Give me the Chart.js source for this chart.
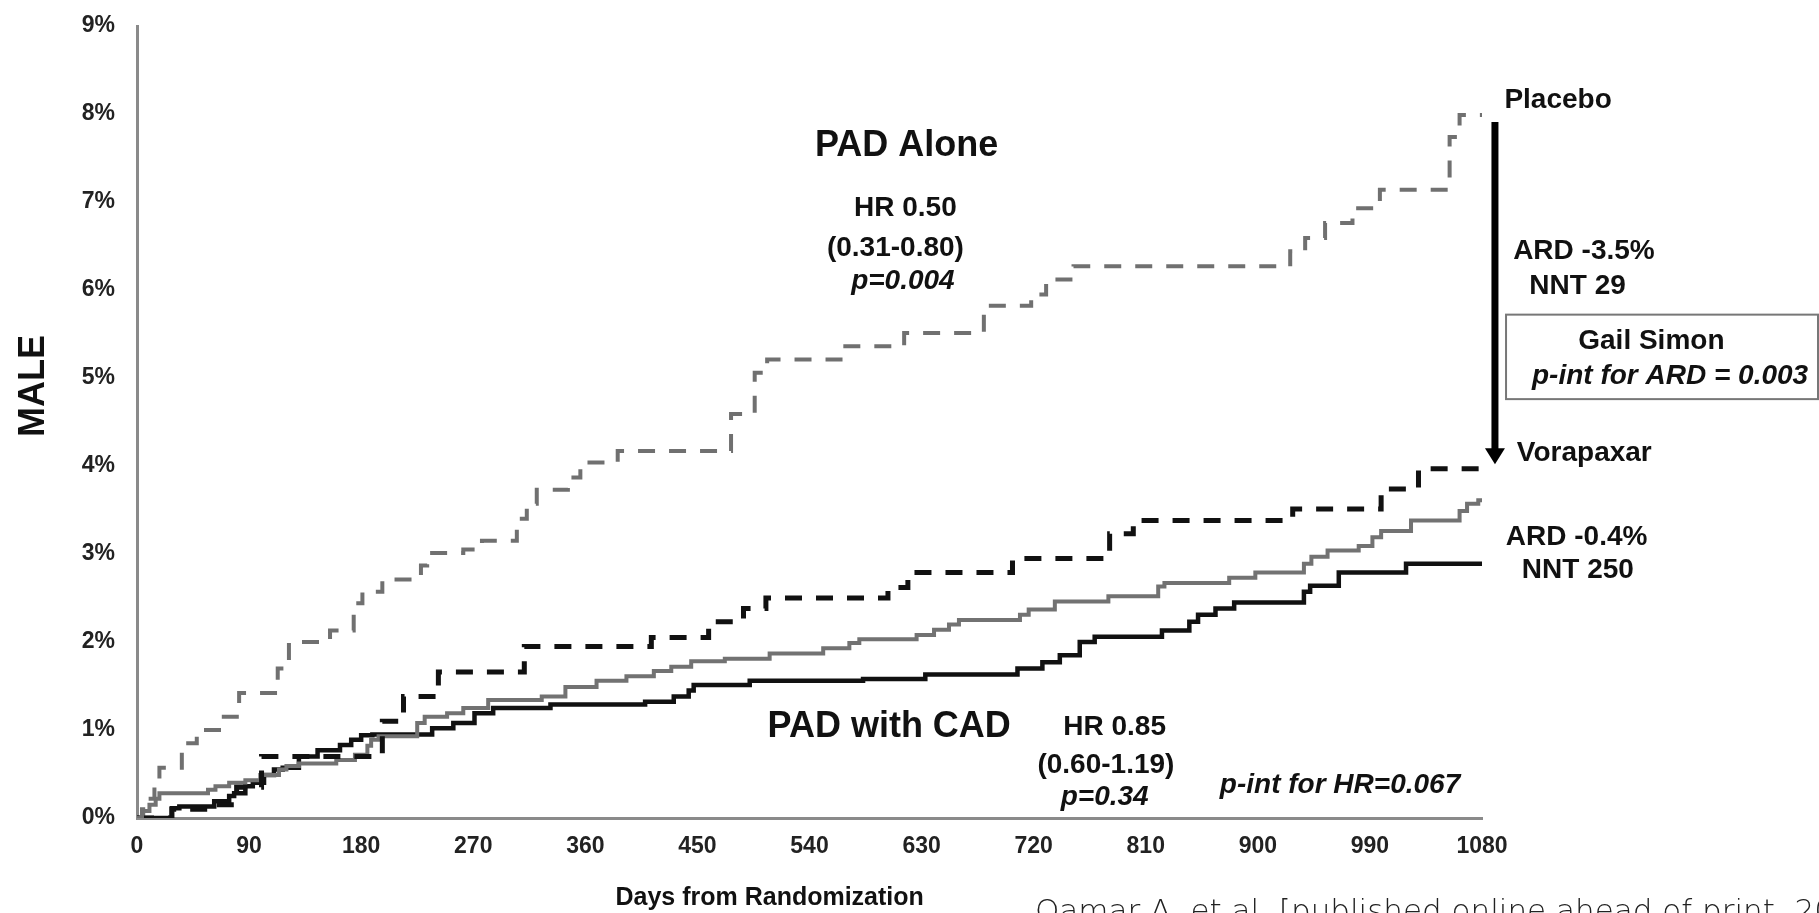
<!DOCTYPE html>
<html lang="en">
<head>
  <meta charset="UTF-8" />
  <title>MALE – PAD Alone vs PAD with CAD</title>
  <script src="https://cdn.jsdelivr.net/npm/chart.js"></script>
  <style>
    html, body { margin: 0; padding: 0; background: #ffffff; }
    #wrap { width: 1819px; height: 913px; overflow: hidden; }
    canvas { display: block; }
  </style>
</head>
<body>
<div id="wrap"><canvas id="maleChart" width="1819" height="913"></canvas></div>

<script>
  // x ticks (days) and y ticks (%)
  const dayTicks = [0, 90, 180, 270, 360, 450, 540, 630, 720, 810, 900, 990, 1080];
  const pctTicks = [0, 1, 2, 3, 4, 5, 6, 7, 8, 9];

  // PAD alone, placebo (grey dashed)
  const padAlonePlaceboDays = [0, 4, 9, 14, 18, 36, 48, 68, 82, 113, 122, 155, 174, 181, 197, 228, 233, 262, 277, 305, 313, 321, 346, 356, 386, 477, 496, 506, 567, 616, 680, 718, 730, 752, 926, 938, 954, 976, 998, 1054, 1062, 1080];
  const padAlonePlaceboPct  = [0, 0.10, 0.22, 0.38, 0.57, 0.85, 1.00, 1.15, 1.42, 1.70, 2.00, 2.13, 2.44, 2.57, 2.71, 2.87, 3.01, 3.05, 3.15, 3.40, 3.57, 3.73, 3.87, 4.04, 4.17, 4.59, 5.06, 5.21, 5.36, 5.51, 5.82, 5.95, 6.12, 6.27, 6.44, 6.59, 6.76, 6.93, 7.14, 7.74, 7.99, 7.99];

  // PAD alone, vorapaxar (black dashed)
  const padAloneVoraDays = [0, 28, 60, 80, 100, 197, 214, 242, 311, 413, 459, 487, 505, 603, 619, 703, 781, 800, 928, 999, 1029, 1080];
  const padAloneVoraPct  = [0, 0.10, 0.15, 0.35, 0.70, 1.10, 1.38, 1.66, 1.95, 2.05, 2.23, 2.38, 2.50, 2.62, 2.79, 2.95, 3.23, 3.38, 3.51, 3.74, 3.97, 3.97];

  // PAD with CAD, placebo (grey solid)
  const padCadPlaceboDays = [0, 5, 10, 15, 18, 57, 63, 74, 87, 99, 114, 120, 130, 160, 175, 185, 188, 194, 225, 231, 249, 262, 282, 325, 344, 369, 393, 415, 429, 445, 472, 508, 551, 572, 580, 626, 640, 652, 660, 709, 716, 737, 780, 820, 825, 877, 898, 937, 943, 956, 981, 992, 999, 1023, 1062, 1068, 1077, 1080];
  const padCadPlaceboPct  = [0, 0.08, 0.15, 0.22, 0.28, 0.32, 0.36, 0.40, 0.43, 0.49, 0.55, 0.59, 0.62, 0.66, 0.72, 0.82, 0.89, 0.93, 1.08, 1.15, 1.19, 1.25, 1.34, 1.38, 1.49, 1.56, 1.61, 1.67, 1.72, 1.78, 1.81, 1.87, 1.93, 1.99, 2.03, 2.08, 2.14, 2.20, 2.25, 2.31, 2.37, 2.46, 2.52, 2.63, 2.67, 2.73, 2.79, 2.89, 2.97, 3.04, 3.09, 3.19, 3.26, 3.38, 3.49, 3.57, 3.61, 3.61];

  // PAD with CAD, vorapaxar (black solid)
  const padCadVoraDays = [0, 28, 34, 62, 74, 78, 87, 93, 102, 110, 117, 130, 145, 163, 172, 180, 189, 237, 254, 271, 286, 332, 408, 431, 443, 447, 492, 583, 633, 707, 727, 741, 757, 769, 823, 845, 852, 866, 881, 937, 942, 965, 1019, 1080];
  const padCadVoraPct  = [0, 0.11, 0.13, 0.19, 0.25, 0.28, 0.36, 0.40, 0.49, 0.55, 0.57, 0.70, 0.77, 0.83, 0.89, 0.94, 0.95, 1.02, 1.08, 1.19, 1.25, 1.29, 1.32, 1.38, 1.45, 1.51, 1.56, 1.58, 1.63, 1.70, 1.77, 1.85, 2.00, 2.06, 2.13, 2.23, 2.31, 2.38, 2.45, 2.57, 2.64, 2.79, 2.89, 2.89];

  const toPoints = (days, pct) => days.map((d, i) => ({ x: d, y: pct[i] }));

  const FONT = '"Liberation Sans", Arial, sans-serif';

  // text placed in data units (days, %) so it follows the scales
  const notes = [
    { t: 'PAD Alone',       d: 618,  p: 7.64, f: 'bold 36px',         a: 'center' },
    { t: 'HR 0.50',         d: 617,  p: 6.93, f: 'bold 28px',         a: 'center' },
    { t: '(0.31-0.80)',     d: 609,  p: 6.47, f: 'bold 28px',         a: 'center' },
    { t: 'p=0.004',         d: 615,  p: 6.10, f: 'italic bold 28px',  a: 'center' },
    { t: 'PAD with CAD',    d: 604,  p: 1.03, f: 'bold 36px',         a: 'center' },
    { t: 'HR 0.85',         d: 785,  p: 1.03, f: 'bold 28px',         a: 'center' },
    { t: '(0.60-1.19)',     d: 778,  p: 0.60, f: 'bold 28px',         a: 'center' },
    { t: 'p=0.34',          d: 777,  p: 0.23, f: 'italic bold 28px',  a: 'center' },
    { t: 'p-int for HR=0.067', d: 966, p: 0.37, f: 'italic bold 28px', a: 'center' },
    { t: 'Placebo',         d: 1098, p: 8.16, f: 'bold 28px',         a: 'left' },
    { t: 'ARD -3.5%',       d: 1105, p: 6.44, f: 'bold 28px',         a: 'left' },
    { t: 'NNT 29',          d: 1118, p: 6.04, f: 'bold 28px',         a: 'left' },
    { t: 'Gail Simon',      d: 1216, p: 5.42, f: 'bold 28px',         a: 'center' },
    { t: 'p-int for ARD = 0.003', d: 1231, p: 5.02, f: 'italic bold 28px', a: 'center' },
    { t: 'Vorapaxar',       d: 1108, p: 4.14, f: 'bold 28px',         a: 'left' },
    { t: 'ARD -0.4%',       d: 1156, p: 3.19, f: 'bold 28px',         a: 'center' },
    { t: 'NNT 250',         d: 1157, p: 2.81, f: 'bold 28px',         a: 'center' }
  ];

  const annotations = {
    id: 'annotations',
    afterDraw(chart) {
      const { ctx, scales: { x, y } } = chart;
      ctx.save();
      ctx.fillStyle = '#111';
      ctx.textBaseline = 'middle';
      notes.forEach(n => {
        ctx.font = n.f + ' ' + FONT;
        ctx.textAlign = n.a;
        ctx.fillText(n.t, x.getPixelForValue(n.d), y.getPixelForValue(n.p));
      });

      // placebo -> vorapaxar arrow
      const ax = x.getPixelForValue(1090.4);
      const aTop = y.getPixelForValue(7.91);
      const aTip = y.getPixelForValue(4.02);
      ctx.strokeStyle = '#000';
      ctx.lineWidth = 7;
      ctx.beginPath();
      ctx.moveTo(ax, aTop);
      ctx.lineTo(ax, aTip - 14);
      ctx.stroke();
      ctx.fillStyle = '#000';
      ctx.beginPath();
      ctx.moveTo(ax - 10, aTip - 16);
      ctx.lineTo(ax + 10, aTip - 16);
      ctx.lineTo(ax, aTip);
      ctx.closePath();
      ctx.fill();

      // Gail Simon box
      const bx = x.getPixelForValue(1099.3);
      const by = y.getPixelForValue(5.72);
      const bb = y.getPixelForValue(4.76);
      ctx.strokeStyle = '#777';
      ctx.lineWidth = 2;
      ctx.strokeRect(bx, by, chart.width - 1 - bx, bb - by);

      // axis titles
      ctx.fillStyle = '#111';
      ctx.font = 'bold 36px ' + FONT;
      ctx.textAlign = 'center';
      ctx.save();
      ctx.translate(34, y.getPixelForValue(4.91));
      ctx.rotate(-Math.PI / 2);
      ctx.fillText('MALE', 0, 0);
      ctx.restore();

      ctx.font = 'bold 25px ' + FONT;
      ctx.fillText('Days from Randomization', x.getPixelForValue(508), 898);

      // source line, cut by the page edge
      ctx.font = '200 31px "DejaVu Sans", "Open Sans", sans-serif';
      ctx.fillStyle = '#222';
      ctx.textAlign = 'left';
      ctx.textBaseline = 'alphabetic';
      ctx.fillText('Qamar A. et al. [published online ahead of print, 2020]', x.getPixelForValue(721), 921);
      ctx.restore();
    }
  };

  const lineStyle = (color, width, dash) => ({
    borderColor: color,
    borderWidth: width,
    borderDash: dash,
    borderCapStyle: 'butt',
    stepped: true,
    pointRadius: 0,
    fill: false
  });

  Chart.defaults.font.family = FONT;
  Chart.defaults.color = '#222';

  new Chart(document.getElementById('maleChart'), {
    type: 'line',
    data: {
      datasets: [
        Object.assign({ label: 'PAD Alone – Placebo', data: toPoints(padAlonePlaceboDays, padAlonePlaceboPct) }, lineStyle('#707070', 4, [17, 14])),
        Object.assign({ label: 'PAD Alone – Vorapaxar', data: toPoints(padAloneVoraDays, padAloneVoraPct) }, lineStyle('#111111', 5, [17, 14])),
        Object.assign({ label: 'PAD with CAD – Placebo', data: toPoints(padCadPlaceboDays, padCadPlaceboPct) }, lineStyle('#727272', 4, [])),
        Object.assign({ label: 'PAD with CAD – Vorapaxar', data: toPoints(padCadVoraDays, padCadVoraPct) }, lineStyle('#111111', 4.5, []))
      ]
    },
    options: {
      responsive: false,
      animation: false,
      devicePixelRatio: 1,
      layout: { padding: { left: 0, right: 337, top: 26, bottom: 0 } },
      plugins: { legend: { display: false }, tooltip: { enabled: false } },
      scales: {
        x: {
          type: 'linear',
          min: 0,
          max: 1080,
          afterBuildTicks: s => { s.ticks = dayTicks.map(v => ({ value: v })); },
          afterFit: s => { s.height = 95; s.paddingLeft = 0; s.paddingRight = 0; },
          grid: { display: false, drawTicks: false },
          border: { display: true, color: '#8a8a8a', width: 3 },
          ticks: { padding: 15, font: { size: 23, weight: 'bold' }, color: '#222', maxRotation: 0, callback: v => String(v) }
        },
        y: {
          type: 'linear',
          min: 0,
          max: 9,
          afterBuildTicks: s => { s.ticks = pctTicks.map(v => ({ value: v })); },
          afterFit: s => { s.width = 137; s.paddingTop = 0; s.paddingBottom = 0; },
          grid: { display: false, drawTicks: false },
          border: { display: true, color: '#8a8a8a', width: 3 },
          ticks: { padding: 22, font: { size: 23, weight: 'bold' }, color: '#222', callback: v => v + '%' }
        }
      }
    },
    plugins: [annotations]
  });
</script>
</body>
</html>
